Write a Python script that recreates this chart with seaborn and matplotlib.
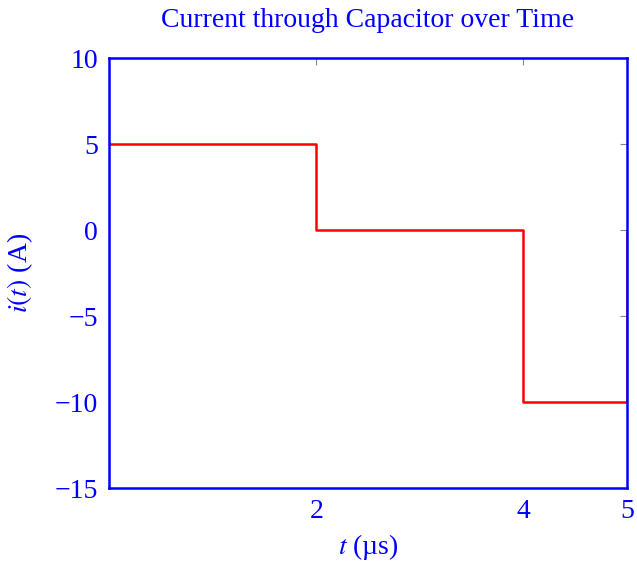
import matplotlib
matplotlib.use("Agg")
import matplotlib.pyplot as plt
import seaborn as sns
import pandas as pd

t_us = [0, 2, 2, 4, 4, 5, 5]
current_A = [5, 5, 0, 0, -10, -10, 0]
x_ticks = [2, 4, 5]
y_ticks = [-15, -10, -5, 0, 5, 10]

sns.set_style("white")
plt.rcParams['font.family'] = ['Liberation Serif', 'DejaVu Serif']
plt.rcParams['mathtext.fontset'] = 'stix'
plt.rcParams['axes.unicode_minus'] = True

BLUE = '#0000FF'
RED = '#FF0000'
FS = 20

df = pd.DataFrame({"t": t_us, "i": current_A})

fig = plt.figure(figsize=(6.37, 5.62), dpi=100)
ax = fig.add_axes([109/637, 1-488/562, (627-109)/637, (488-58)/562])
sns.lineplot(data=df, x="t", y="i", ax=ax, sort=False, color=RED, linewidth=1.8, estimator=None)

ax.set_xlim(0, 5)
ax.set_ylim(-15, 10)
ax.set_xticks(x_ticks)
ax.set_yticks(y_ticks)
ax.set_xticklabels([str(v) for v in x_ticks])
ax.set_yticklabels([f"{v}".replace('-', '\u2212') for v in y_ticks])
for s in ax.spines.values():
    s.set_color(BLUE)
    s.set_linewidth(1.8)
ax.tick_params(direction='in', length=5, width=0.8, color='#888888',
               labelcolor=BLUE, labelsize=FS, top=True, right=True, pad=8)
ax.set_xlabel(r"$t$ (µs)", color=BLUE, fontsize=FS, labelpad=6)
ax.set_ylabel(r"$i(t)$ (A)", color=BLUE, fontsize=FS, labelpad=14)
ax.set_title("Current through Capacitor over Time", color=BLUE, fontsize=FS, pad=22)

fig.savefig("out.png", dpi=100)
